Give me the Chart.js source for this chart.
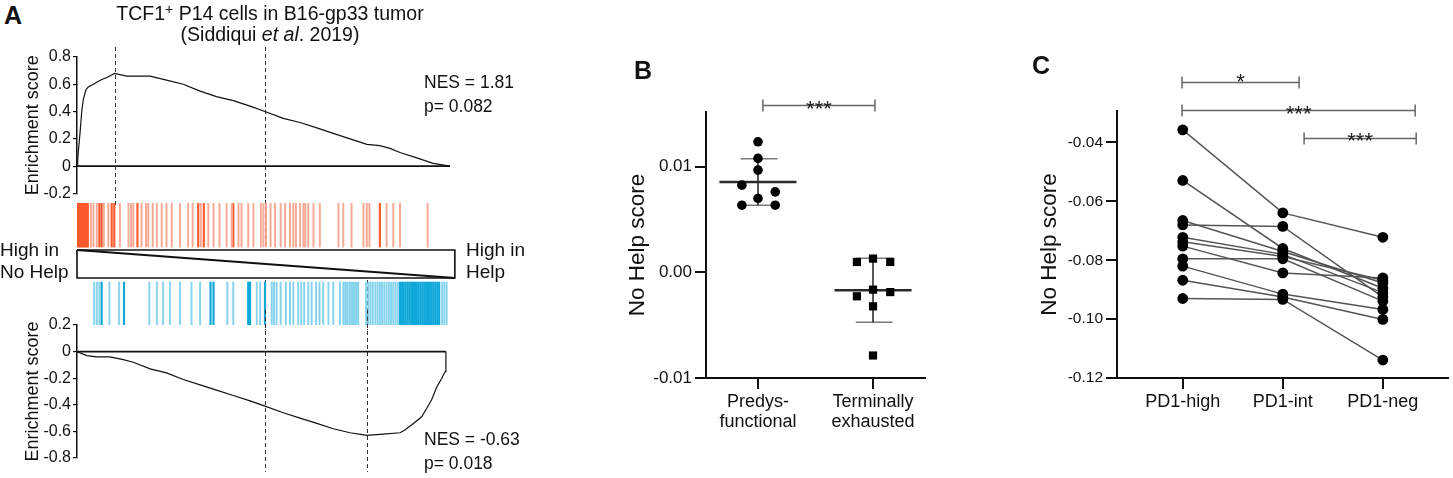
<!DOCTYPE html>
<html><head><meta charset="utf-8">
<script src="https://cdn.jsdelivr.net/npm/chart.js@4.4.1/dist/chart.umd.min.js"></script>
<style>
html,body{margin:0;padding:0;background:#fff;}
body{width:1453px;height:478px;position:relative;overflow:hidden;font-family:'Liberation Sans',Arial,sans-serif;color:#111;}
canvas{position:absolute;}
.t{position:absolute;white-space:nowrap;line-height:1;}
.pl{font-weight:bold;font-size:25px;}
</style></head><body>

<canvas id="a1" width="520" height="165" style="left:0;top:40px"></canvas>
<canvas id="a2" width="520" height="130" style="left:0;top:200px"></canvas>
<canvas id="a3" width="520" height="168" style="left:0;top:310px"></canvas>
<canvas id="b" width="340" height="438" style="left:600px;top:40px"></canvas>
<canvas id="c" width="433" height="438" style="left:1020px;top:40px"></canvas>

<div class="t pl" style="left:4px;top:3px">A</div>
<div class="t" style="left:70px;width:400px;text-align:center;top:2px;font-size:19.5px">TCF1<sup style="font-size:14px;vertical-align:6px">+</sup> P14 cells in B16-gp33 tumor</div>
<div class="t" style="left:70px;width:400px;text-align:center;top:25px;font-size:19.5px">(Siddiqui <i>et al</i>. 2019)</div>
<div class="t" style="left:424px;top:74px;font-size:17.5px">NES = 1.81</div>
<div class="t" style="left:424px;top:98px;font-size:17.5px">p= 0.082</div>
<div class="t" style="left:0px;top:240px;font-size:19px">High in</div>
<div class="t" style="left:0px;top:262px;font-size:19px">No Help</div>
<div class="t" style="left:466px;top:240px;font-size:19px">High in</div>
<div class="t" style="left:466px;top:262px;font-size:19px">Help</div>
<div class="t" style="left:424px;top:431px;font-size:17.5px">NES = -0.63</div>
<div class="t" style="left:424px;top:455px;font-size:17.5px">p= 0.018</div>
<div class="t pl" style="left:634px;top:58px">B</div>
<div class="t pl" style="left:1032px;top:53px">C</div>

<script>
// ---------------- Panel A: GSEA (x = % position in ranked gene list) ----------------
const esTopX = [0,0.2,0.4,0.8,1.3,1.7,2.4,3.0,4.4,6.2,8.0,10.1,13.3,16.9,19.6,24.0,28.5,33.0,37.4,41.9,46.4,50.4,55.3,59.8,64.3,68.7,73.2,77.7,81.2,83.9,86.6,91.1,95.5,100];
const esTopY = [0,0.05,0.12,0.24,0.41,0.49,0.56,0.58,0.60,0.63,0.65,0.68,0.66,0.66,0.66,0.63,0.60,0.55,0.51,0.48,0.44,0.40,0.35,0.32,0.28,0.24,0.20,0.16,0.15,0.13,0.10,0.06,0.02,0];
const esBotX = [0,2.6,5.3,8.8,12.4,15.1,19.6,24.0,28.5,33.0,37.4,41.9,46.4,50.4,55.3,59.8,64.3,68.7,73.2,77.7,82.1,86.6,87.9,90.2,92.4,93.7,95.1,96.4,97.8,98.7,98.9];
const esBotY = [0,-0.03,-0.04,-0.04,-0.06,-0.08,-0.13,-0.16,-0.21,-0.25,-0.29,-0.33,-0.37,-0.41,-0.46,-0.50,-0.54,-0.58,-0.61,-0.63,-0.62,-0.61,-0.59,-0.54,-0.49,-0.43,-0.36,-0.27,-0.20,-0.15,0];
const esTicksTop = [-0.2,0,0.2,0.4,0.6,0.8];
const esTicksBot = [-0.8,-0.6,-0.4,-0.2,0,0.2];
const listEndTop = 100, listEndBot = 98.9;
const leadingEdgeTop = [10.1, 50.4];
const leadingEdgeBot = [50.4, 77.7];
// gene-set hits in the ranked list
const redStrong = [0.2,0.5,0.8,1.1,1.4,1.7,2.0,2.3,2.6,2.9,6.0,6.6,9.3,10.0,16.2,32.5,34.0,41.9,81.2];
const redLight = [3.7,4.4,5.3,7.2,8.4,11.5,13.8,14.5,15.1,17.3,18.5,19.1,20.3,21.4,22.7,24.0,25.4,27.6,29.8,31.0,33.2,35.2,36.6,38.2,40.1,41.5,43.3,44.1,45.9,47.3,49.3,50.0,50.7,51.9,53.1,54.6,55.8,57.1,58.0,58.7,59.8,60.7,61.2,62.0,63.4,65.1,70.1,71.4,73.6,76.8,77.7,78.4,83.0,84.8,86.6,94.0];
const blueLight = [4.6,5.3,6.0,8.7,11.3,19.4,21.4,23.1,24.9,27.6,30.7,33.0,40.3,41.9,48.2,49.1,52.2,52.8,53.5,54.6,56.0,57.1,58.0,59.3,60.1,60.9,62.0,62.9,64.1,65.0,66.0,67.4,68.7,70.5,71.4,71.9,72.4,73.0,73.5,74.0,74.5,75.0,75.4,77.5,78.1,78.7,79.3,80.0,80.6,81.2,81.8,82.4,83.0,83.6,84.2,84.8,85.4,86.0,97.9,98.5,99.1];
const blueStrong = [6.6,12.6,35.8,36.6,45.9,46.4,50.4,86.6,87.1,87.6,88.1,88.6,89.1,89.6,90.1,90.6,91.1,91.6,92.1,92.6,93.1,93.6,94.1,94.6,95.1,95.6,96.1,96.6,97.1];

// ---------------- Panel B ----------------
const categoriesB = [['Predys-','functional'],['Terminally','exhausted']];
const predysScores = [0.01235,0.01078,0.00967,0.00825,0.00699,0.00761,0.00635,0.00635];
const predysJitter = [0,0,0,-0.14,0,0.15,-0.14,0.15];
const terminalScores = [0.00098,0.0013,0.00098,-0.00227,-0.00164,-0.00187,-0.00322,-0.00787];
const terminalJitter = [-0.14,0,0.15,-0.14,0,0.15,0,0];
const ticksB = [-0.01,0,0.01];
const sigB = ['***'];

// ---------------- Panel C (paired samples) ----------------
const categoriesC = ['PD1-high','PD1-int','PD1-neg'];
const pd1High = [-0.0357,-0.0529,-0.0665,-0.0680,-0.0722,-0.0737,-0.0752,-0.0795,-0.0820,-0.0868,-0.0930];
const pd1Int  = [-0.0639,-0.0760,-0.0770,-0.0685,-0.0780,-0.0787,-0.0843,-0.0795,-0.0915,-0.0925,-0.0933];
const pd1Neg  = [-0.0722,-0.0895,-0.0877,-0.0925,-0.0910,-0.0868,-0.0860,-0.0939,-0.0967,-0.1001,-0.1139];
const ticksC = [-0.12,-0.10,-0.08,-0.06,-0.04];
const sigC = ['*','***','***'];

const FF = "'Liberation Sans', Arial, sans-serif";
Chart.defaults.font.family = FF;
Chart.defaults.color = '#111';

const vlinePlugin = {
  id:'vlines',
  beforeDatasetsDraw(chart, args, opts) {
    if (!opts || !opts.lines) return;
    const ctx = chart.ctx, xs = chart.scales.x;
    ctx.save(); ctx.setLineDash([4,3]); ctx.strokeStyle = '#333'; ctx.lineWidth = 1;
    for (const l of opts.lines) {
      const px = Math.round(xs.getPixelForValue(l.x)) + 0.5;
      ctx.beginPath(); ctx.moveTo(px, l.y1); ctx.lineTo(px, l.y2); ctx.stroke();
    }
    ctx.restore();
  }
};
const bracketPlugin = {
  id:'brackets',
  afterDatasetsDraw(chart, args, opts) {
    if (!opts || !opts.items) return;
    const ctx = chart.ctx, xs = chart.scales.x, ys = chart.scales.y;
    ctx.save();
    for (const b of opts.items) {
      const x1 = xs.getPixelForValue(b.x1), x2 = xs.getPixelForValue(b.x2);
      const y = Math.round(ys.getPixelForValue(b.y)) + 0.5;
      ctx.strokeStyle = '#666'; ctx.lineWidth = 1.5; ctx.beginPath();
      ctx.moveTo(x1, y); ctx.lineTo(x2, y);
      ctx.moveTo(x1, y - 6); ctx.lineTo(x1, y + 6);
      ctx.moveTo(x2, y - 6); ctx.lineTo(x2, y + 6);
      ctx.stroke();
      ctx.fillStyle = '#222'; ctx.font = '22px ' + FF; ctx.textAlign = 'center'; ctx.textBaseline = 'alphabetic';
      ctx.fillText(b.label, (x1 + x2) / 2, y + b.dy);
    }
    ctx.restore();
  }
};
Chart.register(vlinePlugin, bracketPlugin);

const base = {responsive:false, animation:false, events:[]};
const noLegend = {legend:{display:false}, tooltip:{enabled:false}};

function esYAxis(min, max, tickList) {
  return {
    min, max,
    afterBuildTicks: s => { s.ticks = tickList.map(v => ({value:v})); },
    ticks:{font:{size:16}, color:'#111', padding:2, callback: v => v === 0 ? '0' : (+v).toFixed(1)},
    grid:{drawOnChartArea:false, tickLength:4, color:'#111', lineWidth:1.2},
    border:{color:'#111', width:1.5},
    title:{display:true, text:'Enrichment score', font:{size:18}, color:'#111', padding:{top:22, bottom:0}},
    afterFit: s => { s.width = 77; }
  };
}
const lineDs = (pts, w) => ({data:pts, showLine:true, borderColor:'#111', backgroundColor:'#111', borderWidth:w, pointRadius:0, tension:0});

// A1 top running ES
new Chart(document.getElementById('a1'), {
  type:'scatter',
  data:{datasets:[
    lineDs(esTopX.map((x,i)=>({x, y:esTopY[i]})), 1.2),
    lineDs([{x:0,y:0},{x:listEndTop,y:0}], 1.6)
  ]},
  options:{...base,
    layout:{padding:{left:0,right:70,top:17,bottom:11}},
    plugins:{...noLegend, vlines:{lines: leadingEdgeTop.map(x=>({x, y1:7, y2:165}))}},
    scales:{ x:{type:'linear', min:0, max:100, display:false}, y: esYAxis(-0.2, 0.8, esTicksTop) }
  }
});

// A2 barcode + ranked-list wedge
const bandRed = [0.639, 1], bandBlue = [0, 0.352], boxTop = 0.615, boxBot = 0.385, boxEnd = 101.3;
const bars = (xs, band, color, w) => ({type:'bar', data: xs.map(x=>({x, y:band})), backgroundColor:color, barThickness:w, grouped:false, borderWidth:0});
new Chart(document.getElementById('a2'), {
  type:'scatter',
  data:{datasets:[
    lineDs([{x:0,y:boxTop},{x:boxEnd,y:boxTop},{x:boxEnd,y:boxBot},{x:0,y:boxBot},{x:0,y:boxTop}], 1.6),
    lineDs([{x:0,y:boxTop},{x:boxEnd,y:boxBot}], 2),
    bars(redLight, bandRed, '#f8a995', 1.3),
    bars(redStrong, bandRed, '#fb5a2c', 1.5),
    bars(blueLight, bandBlue, '#86d3ee', 1.3),
    bars(blueStrong, bandBlue, '#0fa8d8', 1.5)
  ].map((d,i)=> i<2 ? {...d, clip:false} : d)},
  options:{...base,
    layout:{padding:{left:77,right:70,top:3,bottom:5}},
    plugins:{...noLegend, vlines:{lines: [{x:leadingEdgeTop[1], y1:0, y2:48}, ...leadingEdgeBot.map(x=>({x, y1:80, y2:130}))]}},
    scales:{ x:{type:'linear', min:0, max:100, display:false, offset:false}, y:{min:0, max:1, display:false} }
  }
});

// A3 bottom running ES
new Chart(document.getElementById('a3'), {
  type:'scatter',
  data:{datasets:[
    lineDs(esBotX.map((x,i)=>({x, y:esBotY[i]})), 1.2),
    lineDs([{x:0,y:0},{x:listEndBot,y:0}], 1.6)
  ]},
  options:{...base,
    layout:{padding:{left:0,right:70,top:15,bottom:20}},
    plugins:{...noLegend, vlines:{lines: leadingEdgeBot.map(x=>({x, y1:0, y2:162}))}},
    scales:{ x:{type:'linear', min:0, max:100, display:false}, y: esYAxis(-0.8, 0.2, esTicksBot) }
  }
});

// ---------------- Panel B chart ----------------
function meanSd(a){ const m = a.reduce((s,v)=>s+v,0)/a.length; const sd = Math.sqrt(a.reduce((s,v)=>s+(v-m)*(v-m),0)/(a.length-1)); return [m, sd]; }
function summary(c, vals){
  const [m, sd] = meanSd(vals);
  return [
    {data:[{x:c-0.335,y:m},{x:c+0.335,y:m}], showLine:true, borderColor:'#2a2a2a', borderWidth:2.6, pointRadius:0, order:2},
    {data:[{x:c,y:m-sd},{x:c,y:m+sd}], showLine:true, borderColor:'#111', borderWidth:1.4, pointRadius:0, order:2},
    {data:[{x:c-0.15,y:m+sd},{x:c+0.17,y:m+sd}], showLine:true, borderColor:'#7a7a7a', borderWidth:1.6, pointRadius:0, order:2},
    {data:[{x:c-0.15,y:m-sd},{x:c+0.17,y:m-sd}], showLine:true, borderColor:'#7a7a7a', borderWidth:1.6, pointRadius:0, order:2}
  ];
}
function catXAxis(min, max, labels){
  return {
    type:'linear', min, max,
    afterBuildTicks: s => { s.ticks = labels.map((l,i)=>({value:i+1})); },
    ticks:{font:{size:18, lineHeight:1.1}, color:'#111', padding:3, maxRotation:0, autoSkip:false, callback: v => labels[Math.round(v)-1]},
    grid:{drawOnChartArea:false, tickLength:11, color:'#111', lineWidth:2},
    border:{color:'#111', width:2},
    afterFit: s => { s.height = 100; }
  };
}
function scoreYAxis(min, max, tickList, fontSize, width, titlePad){
  return {
    min, max,
    afterBuildTicks: s => { s.ticks = tickList.map(v=>({value:v})); },
    ticks:{font:{size:fontSize}, color:'#111', padding:3, callback: v => (+v).toFixed(2)},
    grid:{drawOnChartArea:false, tickLength:11, color:'#111', lineWidth:2},
    border:{color:'#111', width:2},
    title:{display:true, text:'No Help score', font:{size:22.5}, color:'#111', padding:{top:titlePad, bottom:0}},
    afterFit: s => { s.width = width; }
  };
}

new Chart(document.getElementById('b'), {
  type:'scatter',
  data:{datasets:[
    {data: predysScores.map((v,i)=>({x:1+predysJitter[i], y:v})), pointStyle:'circle', pointRadius:4.8, backgroundColor:'#000', borderColor:'#000', borderWidth:0, order:1},
    {data: terminalScores.map((v,i)=>({x:2+terminalJitter[i], y:v})), pointStyle:'rect', pointRadius:5.8, backgroundColor:'#000', borderColor:'#000', borderWidth:0, order:1},
    ...summary(1, predysScores),
    ...summary(2, terminalScores)
  ]},
  options:{...base,
    layout:{padding:{left:0,right:15,top:72,bottom:0}},
    plugins:{...noLegend, brackets:{items:[{x1:1.043, x2:2.017, y:0.01583, label:sigB[0], dy:10}]}},
    scales:{ x: catXAxis(0.548, 2.452, categoriesB), y: scoreYAxis(-0.01, 0.01517, ticksB, 17, 106, 24.5) }
  }
});

// ---------------- Panel C chart ----------------
const pairs = pd1High.map((v,i)=>[v, pd1Int[i], pd1Neg[i]]);
new Chart(document.getElementById('c'), {
  type:'scatter',
  data:{datasets:[
    ...[pd1High, pd1Int, pd1Neg].map((arr,g)=>({data: arr.map(v=>({x:g+1, y:v})), pointRadius:5.4, backgroundColor:'#000', borderWidth:0, order:1})),
    ...pairs.map(p=>({data: p.map((v,g)=>({x:g+1, y:v})), showLine:true, borderColor:'#555', borderWidth:1.5, pointRadius:0, order:2}))
  ]},
  options:{...base,
    layout:{padding:{left:0,right:5,top:71,bottom:0}},
    plugins:{...noLegend, brackets:{items:[
      {x1:0.993, x2:2.163, y:-0.01955, label:sigC[0], dy:6},
      {x1:0.993, x2:3.323, y:-0.02896, label:sigC[1], dy:10},
      {x1:2.213, x2:3.333, y:-0.03837, label:sigC[2], dy:9}
    ]}},
    scales:{ x: catXAxis(0.343, 3.647, categoriesC), y: scoreYAxis(-0.12, -0.0293, ticksC, 15.5, 97, 16.5) }
  }
});
</script>
</body></html>
